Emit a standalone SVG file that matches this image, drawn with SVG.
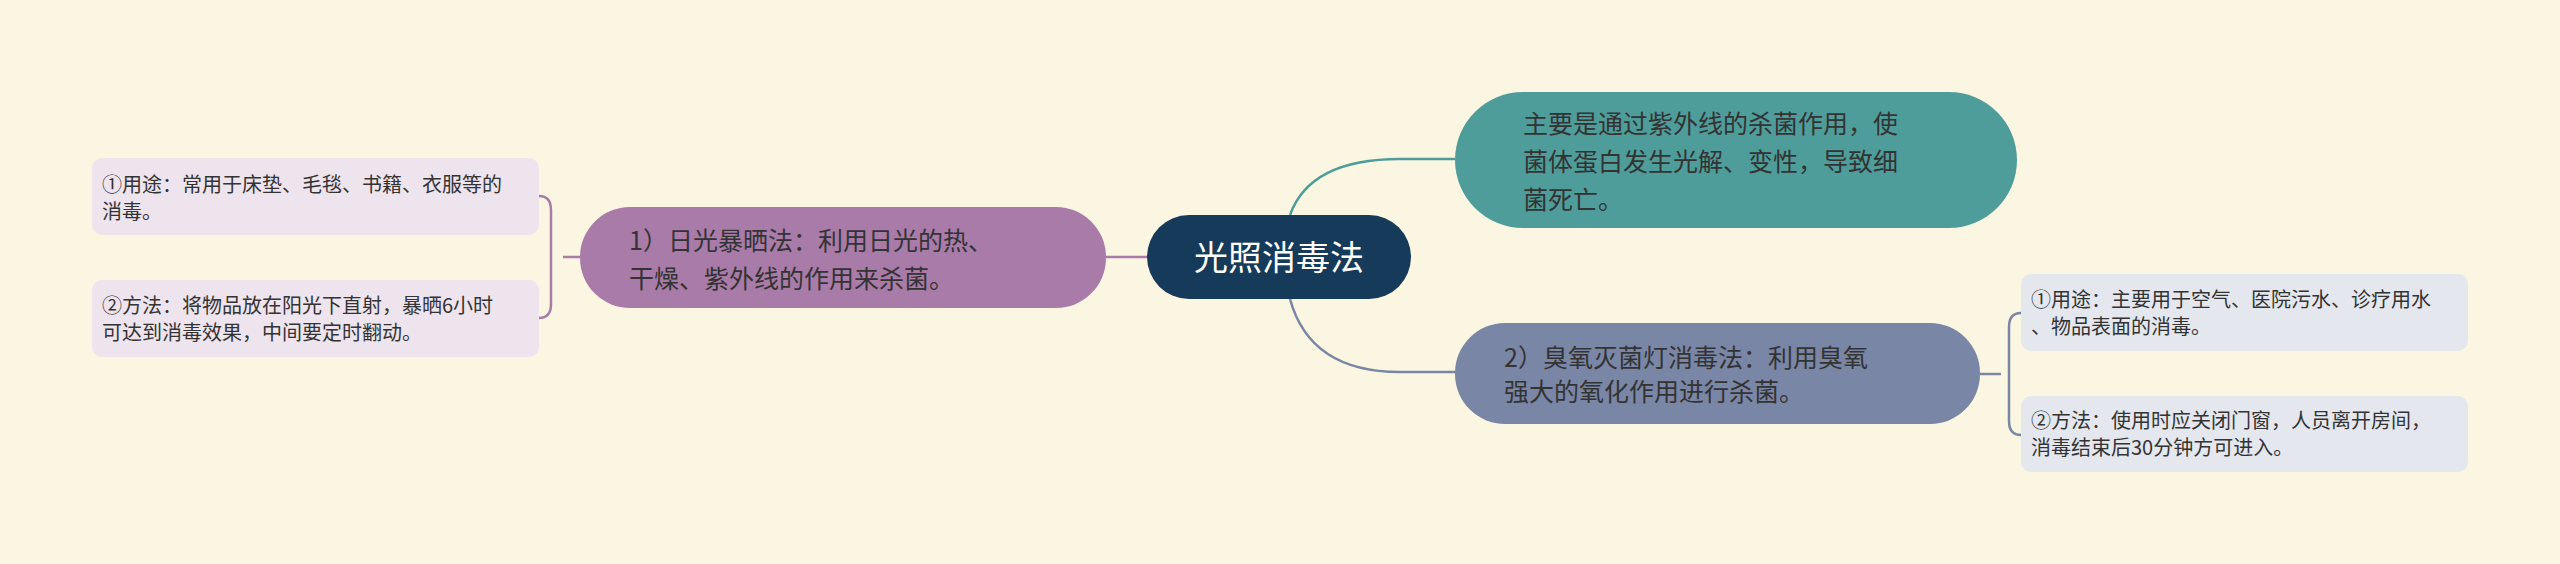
<svg xmlns="http://www.w3.org/2000/svg" width="2560" height="564" viewBox="0 0 2560 564">
<style>
text{font-family:"Noto Sans CJK SC","Noto Sans",sans-serif;fill:#333}
.m{font-size:25px}
.l{font-size:20px}
.c{fill:none;stroke-width:2.5}
</style>
<rect width="2560" height="564" fill="#FBF6E1"/>
<g id="connectors">
<path class="c" stroke="#A97BA9" d="M1106 257H1148"/>
<path class="c" stroke="#A97BA9" d="M580 257H563M539 196Q551 196 551 210V304Q551 318 539 318"/>
<path class="c" stroke="#4E9D9A" d="M1290 215Q1310 159 1400 159H1455"/>
<path class="c" stroke="#7A86A6" d="M1290 299Q1310 372 1400 372H1455"/>
<path class="c" stroke="#7A86A6" d="M1980 374H2001M2021 313Q2009 313 2009 327V421Q2009 435 2021 435"/>
</g>
<g id="root"><rect x="1147" y="215" width="264" height="84" rx="42" fill="#163A5A"/><text x="1279" y="270" text-anchor="middle" style="font-size:34px;fill:#fff">光照消毒法</text></g>
<g id="sun"><rect x="580" y="207" width="526" height="101" rx="50" fill="#A97BA9"/><text class="m" x="629" y="250">1）日光暴晒法：利用日光的热、</text><text class="m" x="629" y="288">干燥、紫外线的作用来杀菌。</text></g>
<g id="sun1"><rect x="92" y="158" width="447" height="77" rx="10" fill="#EEE4EE"/><text class="l" x="102" y="192">①用途：常用于床垫、毛毯、书籍、衣服等的</text><text class="l" x="102" y="219">消毒。</text></g>
<g id="sun2"><rect x="92" y="280" width="447" height="77" rx="10" fill="#EEE4EE"/><text class="l" x="102" y="313">②方法：将物品放在阳光下直射，暴晒6小时</text><text class="l" x="102" y="340">可达到消毒效果，中间要定时翻动。</text></g>
<g id="uv"><rect x="1455" y="92" width="562" height="136" rx="68" fill="#4E9D9A"/><text class="m" x="1523" y="133">主要是通过紫外线的杀菌作用，使</text><text class="m" x="1523" y="171">菌体蛋白发生光解、变性，导致细</text><text class="m" x="1523" y="209">菌死亡。</text></g>
<g id="ozone"><rect x="1455" y="323" width="525" height="101" rx="50" fill="#7A86A6"/><text class="m" x="1504" y="367">2）臭氧灭菌灯消毒法：利用臭氧</text><text class="m" x="1504" y="401">强大的氧化作用进行杀菌。</text></g>
<g id="oz1"><rect x="2021" y="274" width="447" height="77" rx="10" fill="#E4E7EE"/><text class="l" x="2031" y="307">①用途：主要用于空气、医院污水、诊疗用水</text><text class="l" x="2031" y="334">、物品表面的消毒。</text></g>
<g id="oz2"><rect x="2021" y="396" width="447" height="76" rx="10" fill="#E4E7EE"/><text class="l" x="2031" y="428">②方法：使用时应关闭门窗，人员离开房间，</text><text class="l" x="2031" y="455">消毒结束后30分钟方可进入。</text></g>
</svg>
